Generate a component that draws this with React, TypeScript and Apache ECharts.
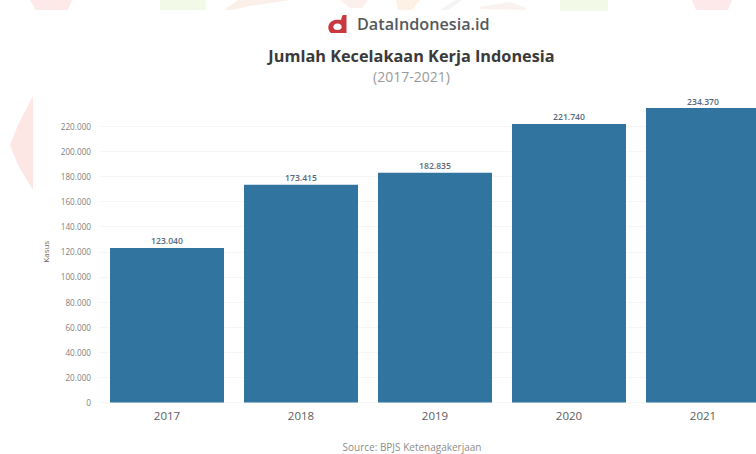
import React, { useEffect, useRef } from "react";
import * as echarts from "echarts";

const years = ["2017", "2018", "2019", "2020", "2021"];
const accidents = [123040, 173415, 182835, 221740, 234370];
const yTickMax = 240000;
const yTickStep = 20000;

const brandName = "DataIndonesia.id";
const chartTitle = "Jumlah Kecelakaan Kerja Indonesia";
const chartPeriod = "(2017-2021)";
const sourceNote = "Source: BPJS Ketenagakerjaan";
const unitName = "Kasus";

const FONT = "'Open Sans', Roboto, sans-serif";
const idNumber = (v: number) => String(v).replace(/\B(?=(\d{3})+(?!\d))/g, ".");

echarts.graphic.registerShape(
  "brandMark",
  echarts.graphic.extendPath(
    "M12 0 L15 0 L15 18 L2 18 C-1 15 -1 9 3 6 C5 4.6 8 4.4 10.5 5 C10.8 3 11.2 1.4 12 0 Z M7.5 8.5 C5 8.5 4 10.5 4 12 C4 14 5.5 15 7.5 15 C9.5 15 11 14 11 12 C11 10 9.5 8.5 7.5 8.5 Z",
    {}
  )
);

// Pale ornaments along the top edge and the left side of the page
const ornament = (points: number[][], fill: string) => ({
  type: "polygon",
  silent: true,
  z: -1,
  shape: { points },
  style: { fill },
});

const ornaments = [
  ornament([[30, 0], [72, 0], [68, 10], [36, 10]], "#fde9e7"),
  ornament([[160, 0], [206, 0], [206, 10], [160, 10]], "#f2f9e7"),
  ornament([[224, 10], [238, 0], [290, 0], [250, 6], [232, 10]], "#fbf0e9"),
  ornament([[340, 0], [368, 0], [362, 8], [350, 8]], "#fbf0ec"),
  ornament([[396, 0], [420, 0], [412, 10], [398, 10]], "#fdf0e4"),
  ornament([[440, 10], [456, 0], [462, 0], [448, 10]], "#f4f4f4"),
  ornament([[480, 7], [510, 2], [526, 8], [526, 10], [480, 9]], "#faf2ee"),
  ornament([[560, 0], [608, 0], [608, 11], [560, 11]], "#f2f9e7"),
  ornament([[692, 0], [732, 0], [728, 10], [696, 10]], "#fde9e9"),
  ornament([[33, 96], [33, 190], [18, 165], [10, 145], [18, 125]], "#fde7e4"),
];

export default function App() {
  const ref = useRef<HTMLDivElement>(null);

  useEffect(() => {
    const chart = echarts.init(ref.current!, undefined, { renderer: "svg" });
    chart.setOption({
      animation: false,
      backgroundColor: "#ffffff",
      title: [
        {
          text: chartTitle,
          left: 406.5,
          top: 43,
          textAlign: "center",
          textStyle: { fontFamily: FONT, fontSize: 16.3, fontWeight: 700, color: "#3a3a3a" },
        },
        {
          text: chartPeriod,
          left: 406.5,
          top: 64,
          textAlign: "center",
          textStyle: { fontFamily: FONT, fontSize: 14, fontWeight: 400, color: "#9a9a9a" },
        },
        {
          text: brandName,
          left: 352,
          top: 11,
          textStyle: { fontFamily: FONT, fontSize: 16.2, fontWeight: 600, color: "#55585c" },
        },
        {
          text: sourceNote,
          left: 412,
          top: 442,
          padding: 0,
          textAlign: "center",
          textStyle: { fontFamily: FONT, fontSize: 10, fontWeight: 400, color: "#8c8c8c" },
        },
      ],
      graphic: [
        ...ornaments,
        {
          type: "brandMark",
          x: 328.5,
          y: 15,
          scaleX: 1.2,
          scaleY: 1,
          style: { fill: "#c8383f" },
        },
      ],
      grid: { left: 100, top: 101, width: 670, height: 301.5, outerBoundsMode: "none" },
      xAxis: {
        type: "category",
        data: years,
        axisLine: { show: false },
        axisTick: { show: false },
        axisLabel: { fontFamily: FONT, fontSize: 11.5, color: "#5c5c5c", margin: 7 },
      },
      yAxis: {
        type: "value",
        min: 0,
        max: yTickMax,
        interval: yTickStep,
        name: unitName,
        nameLocation: "middle",
        nameGap: 50,
        nameTextStyle: { fontFamily: FONT, fontSize: 8, color: "#666666" },
        axisLine: { show: false },
        axisTick: { show: false },
        splitLine: { showMaxLine: false, lineStyle: { color: "#f6f6f6", width: 1 } },
        axisLabel: {
          fontFamily: FONT,
          fontSize: 8.2,
          color: "#808080",
          margin: 9,
          formatter: (v: number) => (v === yTickMax ? "" : idNumber(v)),
        },
      },
      series: [
        {
          type: "bar",
          data: accidents,
          barWidth: 114,
          itemStyle: { color: "#31749f" },
          label: {
            show: true,
            position: "top",
            distance: 2,
            fontFamily: FONT,
            fontSize: 8.6,
            fontWeight: 600,
            color: "#55697a",
            formatter: (p: { value: number }) => idNumber(p.value),
          },
        },
      ],
    });
    return () => chart.dispose();
  }, []);

  return (
    <div
      ref={ref}
      style={{ position: "fixed", left: 0, top: 0, width: 756, height: 454, overflow: "hidden" }}
    />
  );
}
